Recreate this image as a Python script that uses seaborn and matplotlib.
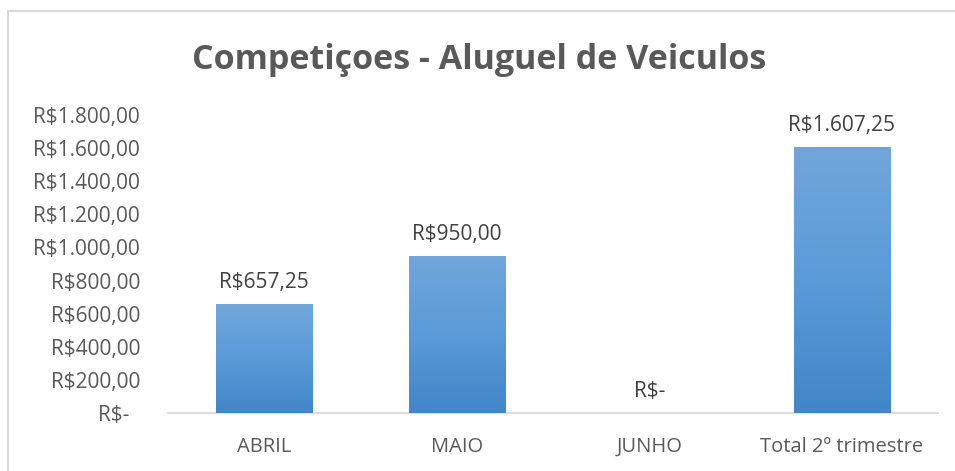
import numpy as np
import pandas as pd
import matplotlib
matplotlib.use("Agg")
import matplotlib.pyplot as plt
import seaborn as sns
from matplotlib.lines import Line2D
from matplotlib.colors import LinearSegmentedColormap

categories = ["ABRIL", "MAIO", "JUNHO", "Total 2º trimestre"]
values = [657.25, 950.00, 0.0, 1607.25]
y_ticks = [0, 200, 400, 600, 800, 1000, 1200, 1400, 1600, 1800]


def brl(v):
    if v == 0:
        return "R$-"
    s = f"{v:,.2f}"
    s = s.replace(",", "X").replace(".", ",").replace("X", ".")
    return "R$" + s


sns.set_theme(style="white")
plt.rcParams["font.family"] = ["Open Sans", "DejaVu Sans"]

fig = plt.figure(figsize=(9.55, 4.71), dpi=100)
ax = fig.add_axes([168 / 955, 58 / 471, (938 - 168) / 955, (413 - 115) / 471])

df = pd.DataFrame({"cat": categories, "val": values})
sns.barplot(data=df, x="cat", y="val", ax=ax, color="#5B9BD5",
            width=0.5, saturation=1, zorder=2)

# vertical gradient fill for each bar
grad = LinearSegmentedColormap.from_list("bar", ["#4186C8", "#5B9BD8", "#71A6DA"])
gimg = np.linspace(0, 1, 256).reshape(-1, 1)
for patch, v in zip(ax.patches, values):
    x0, w = patch.get_x(), patch.get_width()
    ax.text(x0 + w / 2, v + 95, brl(v), ha="center", va="baseline",
            fontsize=15, color="#404040", zorder=4)
    if v <= 0:
        patch.set_visible(False)
        continue
    patch.set_facecolor("none")
    patch.set_edgecolor("none")
    im = ax.imshow(gimg, cmap=grad, aspect="auto", origin="lower",
                   extent=(x0, x0 + w, 0, v), zorder=3)
    im.set_clip_path(patch)

ax.set_xlim(-0.5, len(categories) - 0.5)
ax.set_ylim(0, 1800)
ax.set_yticks(y_ticks)
ax.set_yticklabels([brl(t) + ("  " if t == 0 else "") for t in y_ticks],
                   fontsize=15, color="#595959")
ax.set_xticks(range(len(categories)))
ax.set_xticklabels(categories, fontsize=14.5, color="#595959")
ax.tick_params(axis="y", length=0, pad=20)
ax.tick_params(axis="x", length=0, pad=17)
ax.set_xlabel("")
ax.set_ylabel("")
for side in ["top", "right", "left"]:
    ax.spines[side].set_visible(False)
ax.spines["bottom"].set_color("#D9D9D9")
ax.spines["bottom"].set_linewidth(1.3)
ax.grid(False)

fig.text(479 / 955, 1 - 60 / 471, "Competiçoes - Aluguel de Veiculos",
         ha="center", va="center", fontsize=24.5, fontweight="bold", color="#595959")

# chart frame (left and top edges)
fig.add_artist(Line2D([7.5 / 955, 7.5 / 955], [0, 1 - 10.5 / 471],
                      transform=fig.transFigure, color="#D9D9D9", lw=1.5))
fig.add_artist(Line2D([7.5 / 955, 1], [1 - 10.5 / 471, 1 - 10.5 / 471],
                      transform=fig.transFigure, color="#D9D9D9", lw=1.5))

fig.savefig("out.png", dpi=100, facecolor="white")
